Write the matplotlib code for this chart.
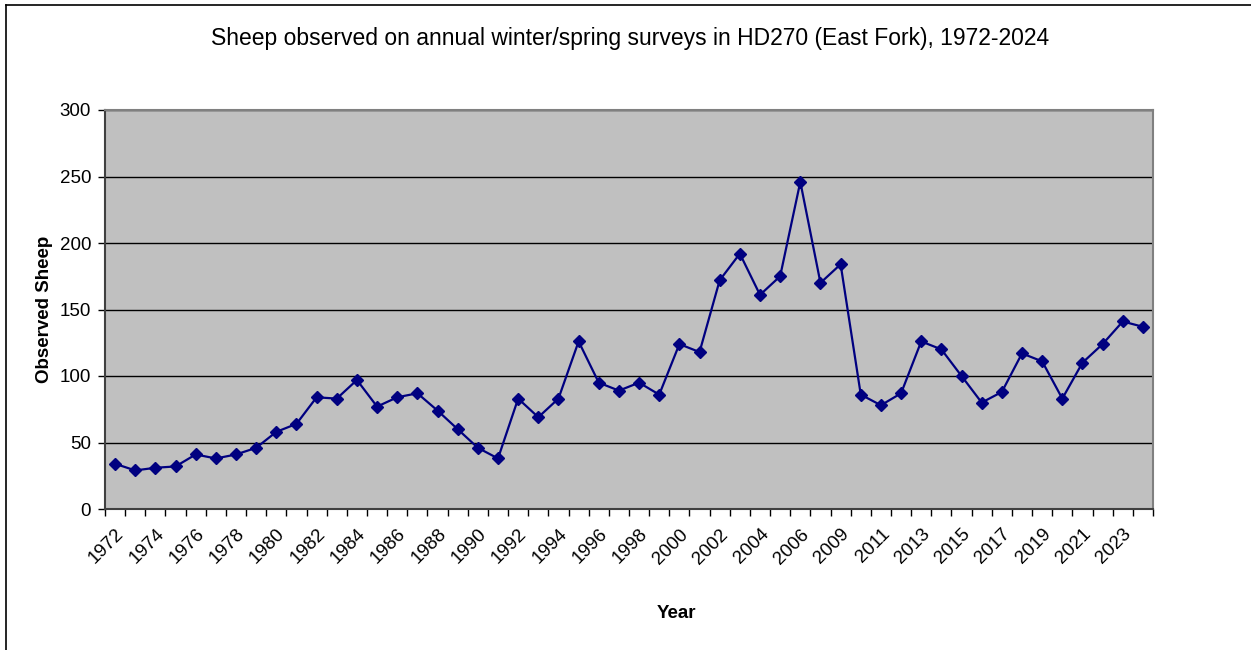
import numpy as np
import matplotlib.pyplot as plt
from matplotlib.lines import Line2D

plt.rcParams['font.family'] = ['Liberation Sans', 'DejaVu Sans']

# survey years (2007 missing)
years = list(range(1972, 2007)) + [2008] + list(range(2009, 2025))
sheep = [34, 29, 31, 32, 41, 38, 41, 46, 58, 64,
         84, 83, 97, 77, 84, 87, 74, 60, 46, 38,
         83, 69, 83, 126, 95, 89, 95, 86, 124, 118,
         172, 192, 161, 175, 246, 170, 184, 86, 78, 87,
         126, 120, 100, 80, 88, 117, 111, 83, 110, 124,
         141, 137]
y_ticks = [0, 50, 100, 150, 200, 250, 300]

W, H = 1251, 650
fig = plt.figure(figsize=(W / 100, H / 100), dpi=100)
# outer frame: only top and left edges show
fig.lines.append(Line2D([6 / W, 1], [1 - 5 / H, 1 - 5 / H], transform=fig.transFigure,
                        color='black', linewidth=1.2))
fig.lines.append(Line2D([6 / W, 6 / W], [0, 1 - 5 / H], transform=fig.transFigure,
                        color='black', linewidth=1.2))

ax = fig.add_axes([105 / W, 1 - 509 / H, 1048 / W, 399 / H])
ax.set_facecolor('#C0C0C0')

x = np.arange(len(years))
ax.plot(x, sheep, color='#000080', linewidth=1.6, marker='D', markersize=6,
        markerfacecolor='#000080', markeredgecolor='#000080', zorder=3)

ax.set_xlim(-0.5, len(years) - 0.5)
ax.set_ylim(0, 300)
ax.set_yticks(y_ticks)
ax.yaxis.grid(True, color='black', linewidth=1)
ax.set_axisbelow(True)

ax.set_xticks(x[::2])
ax.set_xticklabels([str(y) for y in years[::2]], rotation=45, ha='right',
                   rotation_mode='anchor', fontsize=13.5)
ax.set_xticks(np.arange(-0.5, len(years)), minor=True)
ax.tick_params(axis='x', which='major', length=0, pad=12)
ax.tick_params(axis='x', which='minor', length=5, color='black', width=1)
ax.tick_params(axis='y', length=5, labelsize=13.5, color='black', width=1, pad=5)

for side in ['top', 'right']:
    ax.spines[side].set_color('#808080')
    ax.spines[side].set_linewidth(1.5)
for side in ['left', 'bottom']:
    ax.spines[side].set_color('#404040')
    ax.spines[side].set_linewidth(1.5)

ax.set_ylabel('Observed Sheep', fontsize=13.5, fontweight='bold', labelpad=5)
ax.set_xlabel('Year', fontsize=13.5, fontweight='bold')
ax.xaxis.set_label_coords((676 - 105) / 1048, -(613 - 509) / 399)
ax.xaxis.label.set_va('center')
fig.text(0.504, 1 - 38 / H, 'Sheep observed on annual winter/spring surveys in HD270 (East Fork), 1972-2024',
         ha='center', va='center', fontsize=16.5)

fig.savefig('out.png', dpi=100)
